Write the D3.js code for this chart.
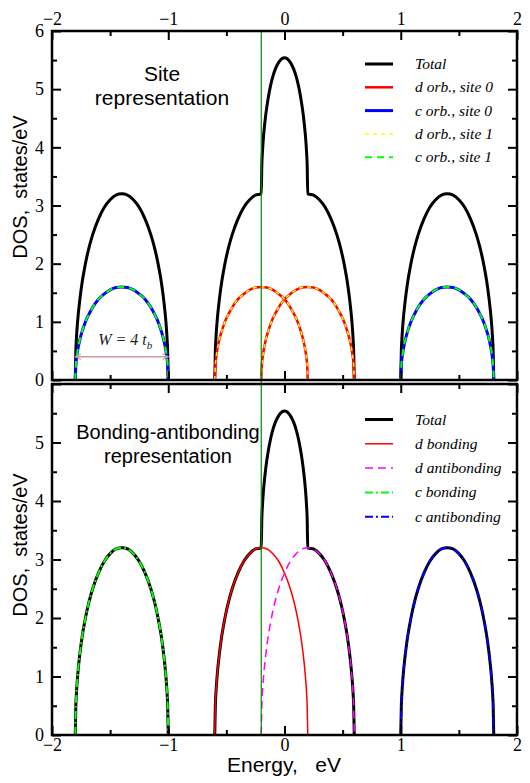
<!DOCTYPE html>
<html><head><meta charset="utf-8">
<script src="https://cdn.jsdelivr.net/npm/d3@7/dist/d3.min.js"></script>
<style>body{margin:0;background:#fff}svg{display:block}</style>
</head><body>
<svg id="chart" width="530" height="783"></svg>
<script>
// ---------- data ----------
// relative energy within one band (eV) and its DOS shape
const bandOffsets = [-0.4,-0.395,-0.39,-0.38,-0.36,-0.34,-0.32,-0.30,-0.28,-0.25,-0.20,-0.15,-0.10,-0.05,0,
                      0.05,0.10,0.15,0.20,0.25,0.28,0.30,0.32,0.34,0.36,0.38,0.39,0.395,0.4];
// full band DOS (bonding / antibonding, outer total), peak 3.2
const dosBand = [0,0.50,0.71,1.00,1.39,1.69,1.92,2.12,2.29,2.50,2.77,2.97,3.10,3.18,3.20,
                 3.18,3.10,2.97,2.77,2.50,2.29,2.12,1.92,1.69,1.39,1.00,0.71,0.50,0];
// per-site DOS, peak 1.6
const dosSite = [0,0.25,0.36,0.50,0.70,0.84,0.96,1.06,1.14,1.25,1.39,1.48,1.55,1.59,1.60,
                 1.59,1.55,1.48,1.39,1.25,1.14,1.06,0.96,0.84,0.70,0.50,0.36,0.25,0];
// band centres (eV)
const cBondingCenter = -1.4, dBondingCenter = -0.2, dAntiCenter = 0.2, cAntiCenter = 1.4;
// total DOS in the central (d) region
const totalMidEnergy = [-0.6,-0.595,-0.59,-0.58,-0.56,-0.54,-0.52,-0.50,-0.48,-0.45,-0.40,-0.35,-0.30,-0.25,-0.20,
  -0.195,-0.19,-0.18,-0.16,-0.14,-0.12,-0.10,-0.08,-0.05,0,0.05,0.08,0.10,0.12,0.14,0.16,0.18,0.19,0.195,
  0.20,0.25,0.30,0.35,0.40,0.45,0.48,0.50,0.52,0.54,0.56,0.58,0.59,0.595,0.6];
const totalMidDOS = [0,0.50,0.71,1.00,1.39,1.69,1.92,2.12,2.29,2.50,2.77,2.97,3.10,3.18,3.20,
  3.70,3.91,4.20,4.58,4.85,5.06,5.22,5.34,5.46,5.54,5.46,5.34,5.22,5.06,4.85,4.58,4.20,3.91,3.70,
  3.20,3.18,3.10,2.97,2.77,2.50,2.29,2.12,1.92,1.69,1.39,1.00,0.71,0.50,0];
const xTickLabels = [-2,-1,0,1,2];
const yTickLabelsTop = [0,1,2,3,4,5,6];
const yTickLabelsBottom = [0,1,2,3,4,5];
const fermiEnergy = -0.2;
const legendTop = ["Total","d orb., site 0","c orb., site 0","d orb., site 1","c orb., site 1"];
const legendBottom = ["Total","d bonding","d antibonding","c bonding","c antibonding"];

// ---------- helpers ----------
const band = (center, dos) => bandOffsets.map((o,i)=>[center+o, dos[i]]);
const totalSegs = [band(cBondingCenter,dosBand), totalMidEnergy.map((e,i)=>[e,totalMidDOS[i]]), band(cAntiCenter,dosBand)];

const svg = d3.select("#chart");
const L=52, R=517;
const x = d3.scaleLinear().domain([-2,2]).range([L,R]);
const panels = [
  {y: d3.scaleLinear().domain([0,6]).range([380,31]), top:31, bottom:380, labels:yTickLabelsTop, xlabTop:true},
  {y: d3.scaleLinear().domain([0,6]).range([735,384]), top:384, bottom:735, labels:yTickLabelsBottom, xlabBottom:true}
];
const serif = "'Liberation Serif','Times New Roman',serif";
const sans = "'Liberation Sans',Arial,sans-serif";

function drawAxes(p){
  const g = svg.append("g");
  const majX = d3.range(-2,2.01,1), minX = d3.range(-1.5,2,1);
  const majY = d3.range(0,6.01,1), minY = d3.range(0.5,6,1);
  const style = sel => { sel.attr("font-family",serif).attr("font-size",18);
    sel.select(".domain").remove(); sel.selectAll("line").attr("stroke","#000").attr("stroke-width",2);
    sel.selectAll("text").attr("font-family",serif).attr("font-size",18).attr("fill","#000"); };
  const fmtX = d => xTickLabels.includes(d) ? d3.format("d")(d) : "";
  // top axis
  g.append("g").attr("transform",`translate(0,${p.top})`)
    .call(d3.axisTop(x).tickValues(majX).tickSize(-9).tickPadding(6).tickFormat(p.xlabTop? fmtX:()=>"")).call(style);
  g.append("g").attr("transform",`translate(0,${p.top})`)
    .call(d3.axisTop(x).tickValues(minX).tickSize(-5).tickFormat(()=>"")).call(style);
  // bottom axis
  g.append("g").attr("transform",`translate(0,${p.bottom})`)
    .call(d3.axisBottom(x).tickValues(majX).tickSize(-9).tickPadding(3).tickFormat(p.xlabBottom? fmtX:()=>"")).call(style);
  g.append("g").attr("transform",`translate(0,${p.bottom})`)
    .call(d3.axisBottom(x).tickValues(minX).tickSize(-5).tickFormat(()=>"")).call(style);
  // left axis
  g.append("g").attr("transform",`translate(${L},0)`)
    .call(d3.axisLeft(p.y).tickValues(majY).tickSize(-9).tickPadding(8)
      .tickFormat(d=> p.labels.includes(d)? d3.format("d")(d):"")).call(style);
  g.append("g").attr("transform",`translate(${L},0)`)
    .call(d3.axisLeft(p.y).tickValues(minY).tickSize(-5).tickFormat(()=>"")).call(style);
  // right axis
  g.append("g").attr("transform",`translate(${R},0)`)
    .call(d3.axisRight(p.y).tickValues(majY).tickSize(-9).tickFormat(()=>"")).call(style);
  g.append("g").attr("transform",`translate(${R},0)`)
    .call(d3.axisRight(p.y).tickValues(minY).tickSize(-5).tickFormat(()=>"")).call(style);
  g.append("rect").attr("x",L).attr("y",p.top).attr("width",R-L).attr("height",p.bottom-p.top)
    .attr("fill","none").attr("stroke","#000").attr("stroke-width",2.5);
}

function curve(p, pts, stroke, width, dash){
  const line = d3.line().x(d=>x(d[0])).y(d=>p.y(d[1])).curve(d3.curveMonotoneX);
  svg.append("path").attr("d",line(pts)).attr("fill","none").attr("stroke",stroke)
    .attr("stroke-width",width).attr("stroke-dasharray",dash||null).attr("stroke-linejoin","round");
}

const styles = {
  total:["#000",3,null],
  dSite0:["#ff0000",2.5,null], cSite0:["#0000ff",3,null],
  dSite1:["#ffff00",1.5,"4,4"], cSite1:["#00ff00",2,"7,5"],
  dBond:["#ff0000",1.5,null], dAnti:["#ff00ff",1.5,"8,5"],
  cBond:["#00ff00",2,"8,3,2,3"], cAnti:["#0000ff",2,"8,3,2,3"]
};

// --- top panel: site representation
const P0 = panels[0];
totalSegs.forEach(s=>curve(P0,s,...styles.total));
[dBondingCenter,dAntiCenter].forEach(c=>curve(P0,band(c,dosSite),...styles.dSite0));
[cBondingCenter,cAntiCenter].forEach(c=>curve(P0,band(c,dosSite),...styles.cSite0));
[dBondingCenter,dAntiCenter].forEach(c=>curve(P0,band(c,dosSite),...styles.dSite1));
[cBondingCenter,cAntiCenter].forEach(c=>curve(P0,band(c,dosSite),...styles.cSite1));

// --- bottom panel: bonding-antibonding representation
const P1 = panels[1];
totalSegs.forEach(s=>curve(P1,s,...styles.total));
curve(P1,band(dBondingCenter,dosBand),...styles.dBond);
curve(P1,band(dAntiCenter,dosBand),...styles.dAnti);
curve(P1,band(cBondingCenter,dosBand),...styles.cBond);
curve(P1,band(cAntiCenter,dosBand),...styles.cAnti);

// Fermi level vertical line across both panels
svg.append("line").attr("x1",x(fermiEnergy)).attr("x2",x(fermiEnergy)).attr("y1",P0.top).attr("y2",P1.bottom)
  .attr("stroke","#008a00").attr("stroke-width",1.2);

panels.forEach(drawAxes);

// legends
function legend(names, keys, y0, dy){
  names.forEach((n,i)=>{
    const y = y0 + i*dy, s = styles[keys[i]];
    svg.append("line").attr("x1",365).attr("x2",393).attr("y1",y).attr("y2",y)
      .attr("stroke",s[0]).attr("stroke-width",s[1]).attr("stroke-dasharray",s[2]||null);
    svg.append("text").attr("x",415).attr("y",y+5).text(n)
      .attr("font-family",serif).attr("font-style","italic").attr("font-size",15.5).attr("fill","#000");
  });
}
legend(legendTop,["total","dSite0","cSite0","dSite1","cSite1"],64,23.3);
legend(legendBottom,["total","dBond","dAnti","cBond","cAnti"],419.5,24.3);

// panel titles
function title(lines, cx, y0, dy, fs){
  lines.forEach((t,i)=>svg.append("text").attr("x",cx).attr("y",y0+i*dy).attr("text-anchor","middle")
    .attr("font-family",sans).attr("font-size",fs).attr("fill","#000").text(t));
}
title(["Site","representation"],162,81,24,21);
title(["Bonding-antibonding","representation"],168,439,24,20);

// W = 4 t_b arrow
const arrowColor = "#c99a9a";
const defs = svg.append("defs");
["s","e"].forEach(k=>{
  defs.append("marker").attr("id","arr"+k).attr("viewBox","0 0 10 10").attr("refX",9).attr("refY",5)
    .attr("markerWidth",7).attr("markerHeight",7).attr("orient","auto-start-reverse").attr("markerUnits","userSpaceOnUse")
    .append("path").attr("d","M1,1 L9,5 L1,9").attr("fill","none").attr("stroke",arrowColor).attr("stroke-width",1.5);
});
svg.append("line").attr("x1",x(-1.8)).attr("x2",x(-1.0)).attr("y1",P0.y(0.4)).attr("y2",P0.y(0.4))
  .attr("stroke",arrowColor).attr("stroke-width",1.5)
  .attr("marker-start","url(#arrs)").attr("marker-end","url(#arre)");
const wt = svg.append("text").attr("x",x(-1.37)).attr("y",P0.y(0.6)).attr("text-anchor","middle")
  .attr("font-family",serif).attr("font-style","italic").attr("font-size",16).attr("fill","#222");
wt.append("tspan").text("W = 4 t");
wt.append("tspan").attr("font-size",11).attr("dy",4).text("b");

// axis titles
svg.append("text").attr("transform","translate(27,187) rotate(-90)").attr("text-anchor","middle")
  .attr("font-family",sans).attr("font-size",20).attr("fill","#000").style("white-space","pre").text("DOS,  states/eV");
svg.append("text").attr("transform","translate(27,545) rotate(-90)").attr("text-anchor","middle")
  .attr("font-family",sans).attr("font-size",20).attr("fill","#000").style("white-space","pre").text("DOS,  states/eV");
svg.append("text").attr("x",284).attr("y",772).attr("text-anchor","middle")
  .attr("font-family",sans).attr("font-size",21).attr("fill","#000")
  .style("white-space","pre").text("Energy,   eV");
</script>
</body></html>
